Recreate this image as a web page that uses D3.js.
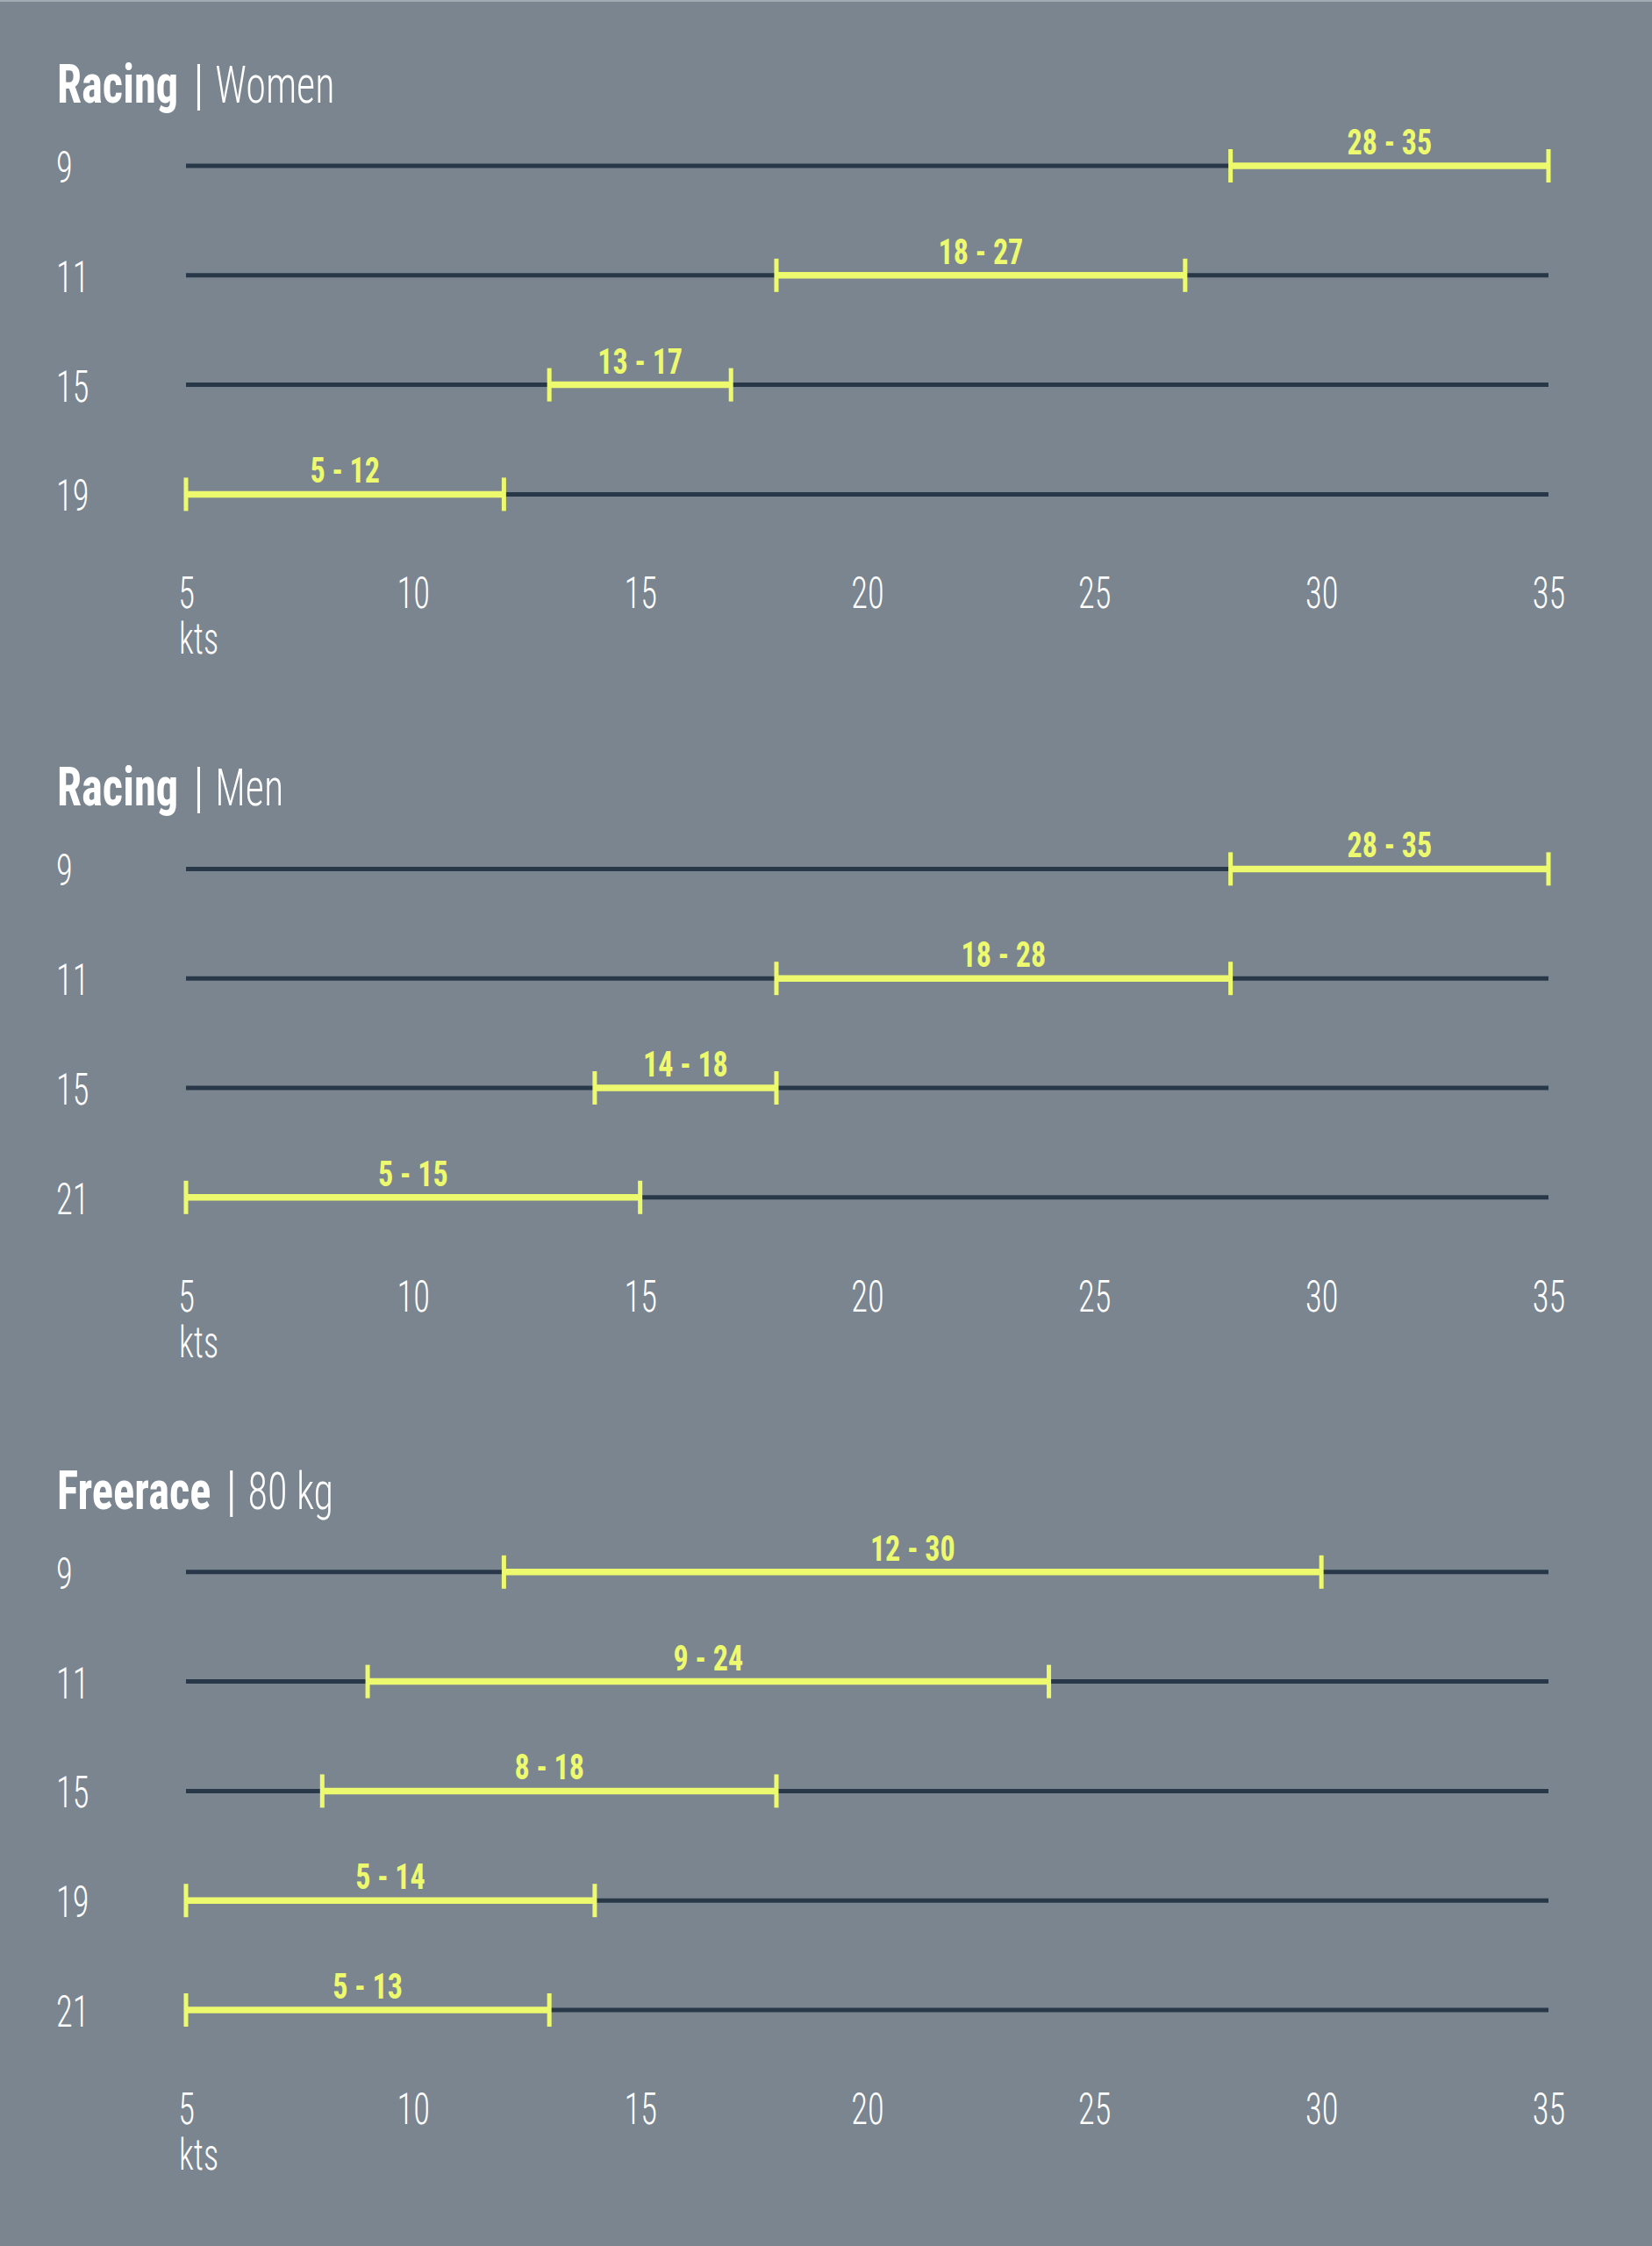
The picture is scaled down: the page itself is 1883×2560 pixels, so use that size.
<!DOCTYPE html>
<html>
<head>
<meta charset="utf-8">
<script src="https://cdn.jsdelivr.net/npm/d3@7"></script>
<style>
  html, body { margin: 0; padding: 0; background: #7a8590; }
  svg { display: block; }
  text { font-family: "Roboto Condensed", "Open Sans", sans-serif; fill: #fff; }
</style>
</head>
<body>
<div id="chart"></div>
<script>
// wind range (kts) per sail size (m²)
const ticks = [5, 10, 15, 20, 25, 30, 35];

const womenSizes  = [9, 11, 15, 19];
const womenRanges = [[28, 35], [18, 27], [13, 17], [5, 12]];

const menSizes  = [9, 11, 15, 21];
const menRanges = [[28, 35], [18, 28], [14, 18], [5, 15]];

const freeSizes  = [9, 11, 15, 19, 21];
const freeRanges = [[12, 30], [9, 24], [8, 18], [5, 14], [5, 13]];

const panels = [
  { bold: "Racing",   light: "Women", sizes: womenSizes, ranges: womenRanges },
  { bold: "Racing",   light: "Men",   sizes: menSizes,   ranges: menRanges },
  { bold: "Freerace", light: "80 kg", sizes: freeSizes,  ranges: freeRanges }
];

const width = 1883, height = 2560;
const rowStep = 124.8;
const yellow = "#eefa6e", dark = "#283848";
const thin = 0.77, heavy = 0.83;   // horizontal squeeze, the original font is narrower

const x = d3.scaleLinear().domain([5, 35]).range([212, 1765]);

const svg = d3.select("#chart").append("svg")
  .attr("width", width)
  .attr("height", height);

svg.append("rect")
  .attr("width", width).attr("height", height)
  .attr("fill", "#7a8590");
svg.append("rect")
  .attr("width", width).attr("height", 2)
  .attr("fill", "#a3abb3");

let firstRow = 189;

panels.forEach(p => {
  const n = p.sizes.length;
  const y = d3.scalePoint()
    .domain(p.sizes)
    .range([firstRow, firstRow + (n - 1) * rowStep]);
  const lastRow = y(p.sizes[n - 1]);

  const g = svg.append("g");

  // title: bold part | thin part
  const ty = firstRow - 72;
  const tBold = g.append("text")
    .attr("transform", `translate(65,${ty}) scale(${heavy},1)`)
    .attr("font-size", 61)
    .attr("font-weight", "bold")
    .text(p.bold);
  const boldEnd = 65 + tBold.node().getComputedTextLength() * heavy;
  g.append("text")
    .attr("transform", `translate(${boldEnd + 23},${ty + 1}) scale(1,1.05)`)
    .attr("text-anchor", "middle")
    .attr("font-size", 60)
    .attr("font-weight", 300)
    .text("|");
  g.append("text")
    .attr("transform", `translate(${boldEnd + 42},${ty}) scale(${thin},1)`)
    .attr("font-size", 60)
    .attr("font-weight", 300)
    .text(p.light);

  const rows = g.selectAll("g.row")
    .data(p.sizes.map((s, i) => ({ size: s, lo: p.ranges[i][0], hi: p.ranges[i][1] })))
    .join("g")
      .attr("class", "row")
      .attr("transform", d => `translate(0,${y(d.size)})`);

  rows.append("text")
    .attr("transform", `translate(64,19) scale(${thin},1)`)
    .attr("font-size", 50)
    .attr("font-weight", 300)
    .text(d => d.size);

  rows.append("line")
    .attr("x1", x(5)).attr("x2", x(35))
    .attr("stroke", dark)
    .attr("stroke-width", 5);

  rows.append("line")
    .attr("x1", d => x(d.lo)).attr("x2", d => x(d.hi))
    .attr("stroke", yellow)
    .attr("stroke-width", 7.5);

  rows.selectAll("line.cap")
    .data(d => [d.lo, d.hi])
    .join("line")
      .attr("class", "cap")
      .attr("x1", v => x(v)).attr("x2", v => x(v))
      .attr("y1", -19).attr("y2", 19)
      .attr("stroke", yellow)
      .attr("stroke-width", 5);

  rows.append("text")
    .attr("transform", d => `translate(${x((d.lo + d.hi) / 2)},-13) scale(${heavy},1)`)
    .attr("text-anchor", "middle")
    .attr("font-size", 41)
    .attr("font-weight", "bold")
    .style("fill", yellow)
    .text(d => `${d.lo} - ${d.hi}`);

  // axis
  const axis = g.append("g")
    .attr("transform", `translate(0,${lastRow + 130})`)
    .call(d3.axisBottom(x).tickValues(ticks).tickSize(0).tickPadding(0));
  axis.attr("font-family", null).attr("font-size", null);
  axis.select(".domain").remove();
  axis.selectAll("text")
    .attr("dy", 0)
    .attr("y", 0)
    .attr("transform", `scale(${thin},1)`)
    .attr("font-size", 50)
    .attr("font-weight", 300)
    .style("fill", "#fff");

  g.append("text")
    .attr("transform", `translate(${x(5) - 8},${lastRow + 182}) scale(${thin},1)`)
    .attr("font-size", 50)
    .attr("font-weight", 300)
    .text("kts");

  firstRow = lastRow + 427;
});
</script>
</body>
</html>
